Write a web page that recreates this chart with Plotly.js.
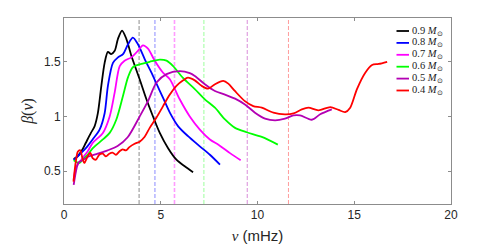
<!DOCTYPE html>
<html><head><meta charset="utf-8">
<script src="https://cdn.plot.ly/plotly-3.0.1.min.js"></script>
<style>html,body{margin:0;padding:0;background:#fff}</style>
</head><body><div id="chart" style="width:498px;height:244px"></div>
<script>
// Series labels, colours
const massLabels = ['0.9', '0.8', '0.7', '0.6', '0.5', '0.4'];
const colors = ['#000000', '#0000ff', '#ff00ff', '#00ff00', '#b300b3', '#ff0000'];
const dashColors = ['#8c8c8c', '#8c8cff', '#ff9cff', '#9cff9c', '#d98cd9', '#ff9c9c'];
// vertical reference frequencies (mHz)
const refFreqs = [3.88, 4.70, 5.71, 7.23, 9.47, 11.6];

// 0.9 Msun
const x09 = [0.5, 0.7, 0.96, 1.13, 1.39, 1.58, 1.75, 1.93, 2.10, 2.27, 2.44, 2.62, 2.79, 3.0, 3.22, 3.48, 3.91, 4.26, 4.60, 4.95, 5.38, 5.81, 6.24, 6.67];
const y09 = [0.61, 0.635, 0.70, 0.76, 0.85, 0.91, 1.03, 1.28, 1.49, 1.59, 1.57, 1.60, 1.71, 1.785, 1.71, 1.555, 1.34, 1.157, 1.0, 0.85, 0.71, 0.605, 0.545, 0.49];
// 0.8 Msun
const x08 = [0.5, 0.79, 1.13, 1.48, 1.84, 2.10, 2.27, 2.53, 2.79, 3.05, 3.31, 3.56, 3.82, 4.17, 4.52, 4.78, 5.12, 5.47, 5.90, 6.41, 7.02, 7.54, 8.06];
const y08 = [0.6, 0.65, 0.71, 0.79, 0.88, 1.03, 1.28, 1.49, 1.54, 1.57, 1.66, 1.72, 1.66, 1.525, 1.40, 1.30, 1.17, 1.035, 0.91, 0.82, 0.727, 0.65, 0.56];
// 0.7 Msun
const x07 = [0.5, 0.61, 0.79, 0.96, 1.22, 1.49, 2.01, 2.36, 2.62, 2.88, 3.13, 3.48, 3.82, 4.08, 4.34, 4.69, 5.12, 5.47, 5.98, 6.50, 7.02, 7.54, 8.0, 8.58, 9.13];
const y07 = [0.42, 0.53, 0.58, 0.62, 0.68, 0.76, 0.85, 1.0, 1.22, 1.46, 1.51, 1.54, 1.60, 1.65, 1.62, 1.51, 1.40, 1.34, 1.157, 1.0, 0.88, 0.79, 0.74, 0.665, 0.60];
// 0.6 Msun
const x06 = [0.5, 0.79, 0.96, 1.22, 1.49, 2.01, 2.36, 2.70, 3.05, 3.31, 3.56, 4.0, 4.43, 4.95, 5.30, 5.64, 6.16, 6.76, 7.28, 7.80, 8.32, 8.84, 9.44, 10.22, 11.05];
const y06 = [0.6, 0.575, 0.605, 0.65, 0.71, 0.79, 0.85, 0.97, 1.19, 1.36, 1.45, 1.48, 1.50, 1.52, 1.51, 1.46, 1.35, 1.25, 1.157, 1.08, 0.973, 0.896, 0.856, 0.813, 0.743];
// 0.5 Msun
const x05 = [0.5, 0.62, 0.75, 0.96, 1.22, 1.74, 2.25, 2.77, 3.29, 3.91, 4.34, 4.78, 5.30, 5.98, 6.50, 6.76, 7.28, 7.80, 8.32, 8.84, 9.35, 9.87, 10.39, 10.91, 11.42, 11.86, 12.2, 12.81, 13.24, 13.84];
const y05 = [0.375, 0.50, 0.58, 0.60, 0.63, 0.66, 0.69, 0.73, 0.81, 1.0, 1.14, 1.31, 1.387, 1.414, 1.396, 1.37, 1.295, 1.233, 1.20, 1.163, 1.11, 1.035, 0.98, 0.964, 0.98, 1.01, 1.01, 0.97, 1.02, 1.065];
// 0.4 Msun
const x04 = [0.49, 0.62, 0.72, 0.84, 0.95, 1.05, 1.22, 1.36, 1.48, 1.65, 1.82, 2.0, 2.17, 2.34, 2.51, 2.68, 2.86, 3.03, 3.20, 3.38, 3.65, 3.91, 4.17, 4.43, 4.78, 5.12, 5.47, 5.81, 6.16, 6.40, 6.76, 7.11, 7.45, 7.80, 8.23, 8.49, 8.83, 9.35, 9.78, 10.22, 10.82, 11.42, 11.86, 12.29, 12.63, 13.15, 13.76, 14.19, 14.53, 14.79, 15.14, 15.57, 15.92, 16.26, 16.7];
const y04 = [0.405, 0.60, 0.68, 0.69, 0.62, 0.575, 0.635, 0.666, 0.62, 0.605, 0.65, 0.66, 0.635, 0.66, 0.67, 0.65, 0.68, 0.70, 0.69, 0.72, 0.75, 0.77, 0.815, 0.896, 0.99, 1.095, 1.20, 1.28, 1.33, 1.355, 1.33, 1.28, 1.255, 1.295, 1.325, 1.30, 1.233, 1.14, 1.095, 1.08, 1.035, 1.02, 1.028, 1.065, 1.08, 1.056, 1.086, 1.06, 1.04, 1.08, 1.25, 1.40, 1.47, 1.48, 1.50];

const xTicks = [0, 5, 10, 15, 20];
const yTicks = [0.5, 1, 1.5];
const yTickText = ['0.5', '1', '1.5'];

const xs = [x09, x08, x07, x06, x05, x04];
const ys = [y09, y08, y07, y06, y05, y04];

const traces = [];
// dashed vertical reference lines, drawn as traces through the axes
refFreqs.forEach((f, i) => {
  traces.push({
    x: [f, f], y: [0.2, 1.9], mode: 'lines', showlegend: false, hoverinfo: 'skip',
    line: {color: dashColors[i], width: i === 2 ? 1.6 : 1, dash: '4px,2px'}
  });
});
xs.forEach((xv, i) => {
  traces.push({
    x: xv, y: ys[i], mode: 'lines', name: massLabels[i], showlegend: false,
    line: {color: colors[i], width: 1.8, shape: 'spline', smoothing: 0.8}
  });
});

// manual compact legend (paper coords)
const plotL = 64, plotR = 451, plotT = 18, plotB = 204;
const pw = plotR - plotL, ph = plotB - plotT;
const shapes = [], annotations = [];
massLabels.forEach((m, i) => {
  const py = 31 + i * 11.9;
  const yp = (plotB - py) / ph;
  shapes.push({type: 'line', xref: 'paper', yref: 'paper',
    x0: (396.5 - plotL) / pw, x1: (409 - plotL) / pw, y0: yp, y1: yp,
    line: {color: colors[i], width: 1.8}});
  annotations.push({xref: 'paper', yref: 'paper', x: (409.5 - plotL) / pw, y: yp,
    xanchor: 'left', yanchor: 'middle', showarrow: false,
    text: m + ' <i>M</i><sub>⊙</sub>',
    font: {family: 'Liberation Serif', size: 10.5, color: '#222'}});
});

const axisCommon = {
  showgrid: false, zeroline: false, showline: true, mirror: 'ticks',
  linecolor: '#8c8c8c', linewidth: 1, ticks: 'inside', ticklen: 3, tickcolor: '#8c8c8c',
  tickfont: {family: 'Liberation Sans', size: 12, color: '#262626'}
};

const layout = {
  width: 498, height: 244,
  margin: {l: plotL, r: 498 - plotR, t: plotT, b: 244 - plotB},
  paper_bgcolor: '#fff', plot_bgcolor: '#fff',
  showlegend: false,
  xaxis: Object.assign({}, axisCommon, {
    range: [0, 20], tickvals: xTicks,
    title: {text: '<span style="font-family:Liberation Serif"><i>ν</i></span> (mHz)',
      font: {family: 'Liberation Sans', size: 15, color: '#262626'}, standoff: 10}
  }),
  yaxis: Object.assign({}, axisCommon, {
    range: [0.2, 1.9], tickvals: yTicks, ticktext: yTickText,
    title: {text: '<i>β</i>(<i>ν</i>)', font: {family: 'Liberation Serif', size: 16, color: '#262626'}, standoff: 6}
  }),
  shapes: shapes, annotations: annotations
};

Plotly.newPlot('chart', traces, layout, {staticPlot: true, displayModeBar: false});
</script>
</body></html>
